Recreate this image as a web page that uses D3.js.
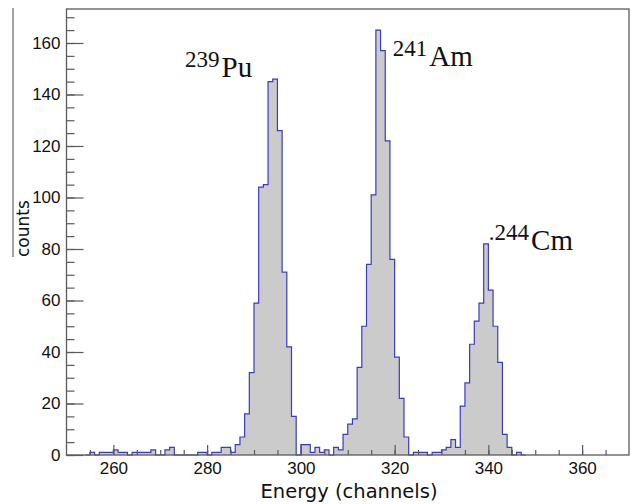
<!DOCTYPE html>
<html>
<head>
<meta charset="utf-8">
<script src="https://cdn.jsdelivr.net/npm/d3@7/dist/d3.min.js"></script>
<style>
  body { margin: 0; background: #fff; }
  svg { display: block; }
</style>
</head>
<body>
<div id="chart"></div>
<script>
// histogram bins (1 channel wide), counts per bin starting at firstChannel
const firstChannel = 254;
const counts = [
  0, 1, 0, 1, 1, 1, 2, 1, 1, 0,      // 254-263
  1, 1, 1, 1, 2, 0, 0, 2, 3, 0,      // 264-273
  0, 0, 0, 0, 1, 1, 0, 1, 1, 3,      // 274-283
  3, 1, 4, 7, 16, 32, 59, 104, 105, 145, // 284-293
  146, 126, 71, 42, 15, 0, 4, 4, 1, 3,   // 294-303
  1, 2, 0, 3, 2, 8, 12, 14, 34, 50,      // 304-313
  74, 101, 165, 157, 122, 76, 38, 22, 7, 0, // 314-323
  1, 1, 1, 0, 1, 1, 2, 3, 6, 3,          // 324-333
  19, 28, 43, 52, 59, 82, 64, 50, 36, 8, // 334-343
  3, 0, 1, 0                             // 344-347
];
const xTicks = [260, 280, 300, 320, 340, 360];
const yTicks = [0, 20, 40, 60, 80, 100, 120, 140, 160];
const xDomain = [250, 370];
const yDomain = [0, 173.2];

// peak annotations: isotope mass number, element, anchor (channel, counts)
const isotopes = ["239", "241", "244"];
const elements = ["Pu", "Am", "Cm"];
const labelChannel = [275.3, 319.6, 340.1];
const labelCount = [146.8, 151, 79.6];
const labelPrefix = ["", "", "."];

const width = 635, height = 504;
const frame = {left: 66.5, right: 629, top: 9, bottom: 455};

const svg = d3.select("#chart").append("svg")
  .attr("width", width)
  .attr("height", height);

const xScale = d3.scaleLinear().domain(xDomain).range([frame.left, frame.right]);
const yScale = d3.scaleLinear().domain(yDomain).range([frame.bottom, frame.top]);

// bins as points, plus closing point so the last bin gets its width
const bins = counts.map((c, i) => ({ch: firstChannel + i, c: c}));
bins.push({ch: firstChannel + counts.length, c: 0});

const area = d3.area()
  .curve(d3.curveStepAfter)
  .x(d => xScale(d.ch))
  .y0(yScale(0))
  .y1(d => yScale(d.c));

const line = d3.line()
  .curve(d3.curveStepAfter)
  .x(d => xScale(d.ch))
  .y(d => yScale(d.c));

svg.append("path")
  .datum(bins)
  .attr("d", area)
  .attr("fill", "#cbcbcb");

svg.append("path")
  .datum(bins)
  .attr("d", line)
  .attr("fill", "none")
  .attr("stroke", "#3a3ac6")
  .attr("stroke-width", 1.2);

// frame
svg.append("rect")
  .attr("x", frame.left)
  .attr("y", frame.top)
  .attr("width", frame.right - frame.left)
  .attr("height", frame.bottom - frame.top)
  .attr("fill", "none")
  .attr("stroke", "#5a5a5a")
  .attr("stroke-width", 1.3);

const axisColor = "#5a5a5a";
const tickFont = "'Liberation Sans', Arial, sans-serif";

// y axis, major + minor ticks pointing inward
svg.append("g")
  .attr("transform", "translate(" + frame.left + ",0)")
  .call(d3.axisLeft(yScale).tickValues(yTicks).tickSizeInner(-17).tickSizeOuter(0).tickPadding(6));
svg.append("g")
  .attr("transform", "translate(" + frame.left + ",0)")
  .call(d3.axisLeft(yScale).tickValues(d3.range(0, 171, 5)).tickSizeInner(-8).tickSizeOuter(0).tickFormat(""));

// x axis, ticks pointing up
svg.append("g")
  .attr("transform", "translate(0," + frame.bottom + ")")
  .call(d3.axisBottom(xScale).tickValues(xTicks).tickSizeInner(-10).tickSizeOuter(0).tickPadding(7));
svg.append("g")
  .attr("transform", "translate(0," + frame.bottom + ")")
  .call(d3.axisBottom(xScale).tickValues(d3.range(255, 370, 5)).tickSizeInner(-5).tickSizeOuter(0).tickFormat(""));

svg.selectAll(".domain").remove();
svg.selectAll(".tick line").attr("stroke", axisColor).attr("stroke-width", 1.2);
svg.selectAll(".tick text")
  .attr("fill", "#111")
  .style("font-family", tickFont)
  .style("font-size", "17px");

// axis titles
svg.append("text")
  .attr("x", 349)
  .attr("y", 498)
  .attr("text-anchor", "middle")
  .style("font-family", "'DejaVu Sans', sans-serif")
  .style("font-size", "19.5px")
  .attr("fill", "#111")
  .text("Energy (channels)");

svg.append("text")
  .attr("transform", "translate(29,257) rotate(-90)")
  .attr("text-anchor", "start")
  .style("font-family", "'DejaVu Sans', sans-serif")
  .style("font-size", "17px")
  .attr("fill", "#111")
  .text("counts");

svg.append("line")
  .attr("x1", 13).attr("x2", 13)
  .attr("y1", 8).attr("y2", 257)
  .attr("stroke", "#444")
  .attr("stroke-width", 1);

// isotope labels
const labels = svg.selectAll(".isoLabel")
  .data(isotopes.map((iso, i) => ({iso: iso, el: elements[i], ch: labelChannel[i], c: labelCount[i], pre: labelPrefix[i]})))
  .join("text")
  .attr("class", "isoLabel")
  .attr("x", d => xScale(d.ch))
  .attr("y", d => yScale(d.c))
  .style("font-family", "'Liberation Serif', 'Times New Roman', serif")
  .attr("fill", "#111");

labels.append("tspan")
  .attr("dy", -10)
  .style("font-size", "23px")
  .text(d => d.pre + d.iso);

labels.append("tspan")
  .attr("dy", 10)
  .attr("dx", 2)
  .style("font-size", "29px")
  .text(d => d.el);
</script>
</body>
</html>
